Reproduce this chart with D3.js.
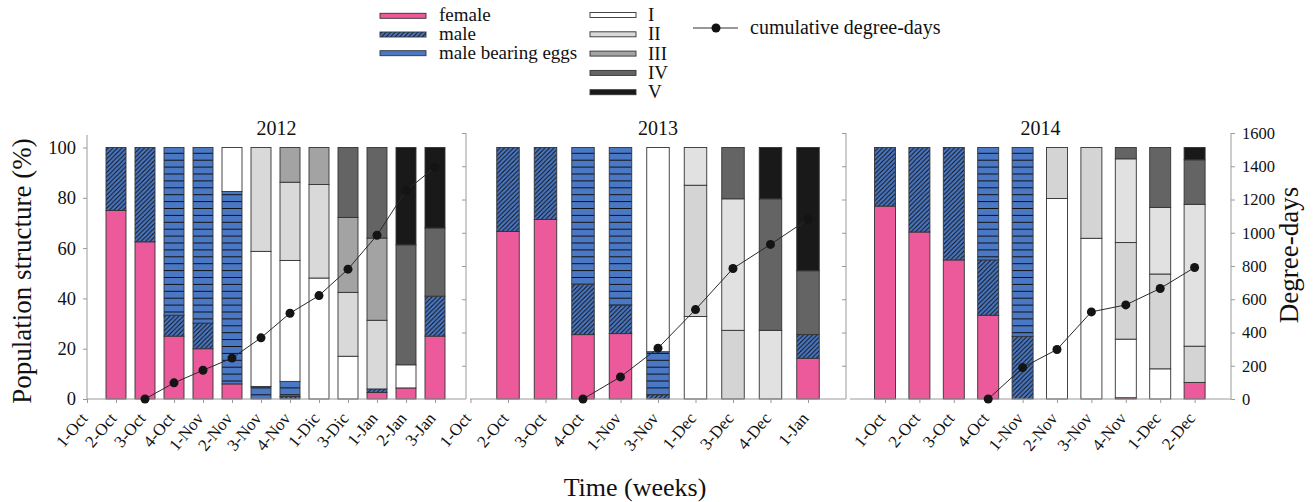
<!DOCTYPE html>
<html>
<head>
<meta charset="utf-8">
<script src="https://cdn.jsdelivr.net/npm/d3@7"></script>
<style>
  body { margin: 0; background: #fff; }
  svg { display: block; }
  svg text { font-family: "Liberation Serif", "Times New Roman", serif; }
</style>
</head>
<body>
<script>
// stacking order, bottom to top
const stages = ["female", "male", "eggs", "I", "II", "III", "IV", "V"];

// ---- 2012 (12 bars, 13 week labels) ----
const weeks2012 = ["1-Oct", "2-Oct", "3-Oct", "4-Oct", "1-Nov", "2-Nov", "3-Nov", "4-Nov", "1-Dic", "3-Dic", "1-Jan", "2-Jan", "3-Jan"];
const female2012 = [75, 62.5, 25, 20, 6, 0, 0, 0, 0, 2.6, 4.4, 25];
const male2012   = [25, 37.5, 8.3, 10.2, 0, 0, 1, 0, 0, 1.4, 0, 15.9];
const eggs2012   = [0, 0, 66.7, 69.8, 76.5, 5, 6, 0, 0, 0, 0, 0];
const I2012      = [0, 0, 0, 0, 17.5, 53.7, 48.1, 48.1, 17, 0, 9.2, 0];
const II2012     = [0, 0, 0, 0, 0, 41.3, 31.1, 37.2, 25.4, 27.3, 0, 0];
const III2012    = [0, 0, 0, 0, 0, 0, 13.8, 14.7, 29.8, 32.7, 0, 0];
const IV2012     = [0, 0, 0, 0, 0, 0, 0, 0, 27.8, 36, 47.7, 27.1];
const V2012      = [0, 0, 0, 0, 0, 0, 0, 0, 0, 0, 38.7, 32];
const dd2012     = [null, 0, 97, 173, 246, 368, 516, 622, 781, 985, 1254, 1393];

// ---- 2013 (9 bars, 10 week labels) ----
const weeks2013 = ["1-Oct", "2-Oct", "3-Oct", "4-Oct", "1-Nov", "3-Nov", "1-Dec", "3-Dec", "4-Dec", "1-Jan"];
const female2013 = [66.6, 71.4, 25.6, 26, 0, 0, 0, 0, 16.2];
const male2013   = [33.4, 28.6, 20.1, 11.3, 1.7, 0, 0, 0, 9.4];
const eggs2013   = [0, 0, 54.3, 62.7, 17.1, 0, 0, 0, 0];
const I2013      = [0, 0, 0, 0, 81.2, 32.8, 0, 0, 0];
const II2013     = [0, 0, 0, 0, 0, 52.2, 27.3, 0, 0];
const III2013    = [0, 0, 0, 0, 0, 15, 52.3, 27.3, 0];
const IV2013     = [0, 0, 0, 0, 0, 0, 20.4, 52.3, 25.4];
const V2013      = [0, 0, 0, 0, 0, 0, 0, 20.4, 49];
const dd2013     = [null, null, 0, 133, 306, 538, 785, 930, 1081];

// ---- 2014 (10 bars) ----
const weeks2014 = ["1-Oct", "2-Oct", "3-Oct", "4-Oct", "1-Nov", "2-Nov", "3-Nov", "4-Nov", "1-Dec", "2-Dec"];
const female2014 = [76.7, 66.4, 55.3, 33.3, 0, 0, 0, 0.5, 0, 6.6];
const male2014   = [23.3, 33.6, 44.7, 22, 24.9, 0, 0, 0, 0, 0];
const eggs2014   = [0, 0, 0, 44.7, 75.1, 0, 0, 0, 0, 0];
const I2014      = [0, 0, 0, 0, 0, 79.7, 63.9, 23.3, 12, 0];
const II2014     = [0, 0, 0, 0, 0, 20.3, 36.1, 38.4, 37.7, 14.4];
const III2014    = [0, 0, 0, 0, 0, 0, 0, 33.3, 26.5, 56.4];
const IV2014     = [0, 0, 0, 0, 0, 0, 0, 4.5, 23.8, 17.7];
const V2014      = [0, 0, 0, 0, 0, 0, 0, 0, 0, 4.9];
const dd2014     = [null, null, null, 0, 189, 298, 524, 566, 665, 791];

const pctTicks = [0, 20, 40, 60, 80, 100];
const ddTicks = [0, 200, 400, 600, 800, 1000, 1200, 1400, 1600];

// legend texts
const sexLegend = ["female", "male", "male bearing eggs"];
const stageLegend = ["I", "II", "III", "IV", "V"];

// colours
const pink = "#ec5a9c", blue = "#4a78c4";
const colors2012 = { female: pink, male: "url(#hatch)", eggs: "url(#hlines)", I: "#ffffff", II: "#d9d9d9", III: "#a3a3a3", IV: "#646464", V: "#191919" };
const colorsLate = { ...colors2012, II: "#d4d4d4", III: "#e1e1e1" };

const panels = [
  { year: "2012", weeks: weeks2012, lab0: 0, dom: [0, 13], rng: [87, 464], ax: [87, 466], bw: 20, colors: colors2012,
    s: { female: female2012, male: male2012, eggs: eggs2012, I: I2012, II: II2012, III: III2012, IV: IV2012, V: V2012 }, dd: dd2012 },
  { year: "2013", weeks: weeks2013, lab0: 0, dom: [0, 10], rng: [470.5, 845.5], ax: [470, 846], bw: 22.5, colors: colorsLate,
    s: { female: female2013, male: male2013, eggs: eggs2013, I: I2013, II: II2013, III: III2013, IV: IV2013, V: V2013 }, dd: dd2013 },
  { year: "2014", weeks: weeks2014, lab0: 1, dom: [0, 11], rng: [850.6, 1229], ax: [850, 1231], bw: 21, colors: colorsLate,
    s: { female: female2014, male: male2014, eggs: eggs2014, I: I2014, II: II2014, III: III2014, IV: IV2014, V: V2014 }, dd: dd2014 }
];

const W = 1313, H = 502;
const yBase = 399;
const y = d3.scaleLinear().domain([0, 100]).range([yBase, 147.5]);
const yDD = d3.scaleLinear().domain([0, 1600]).range([yBase, 133]);
const axisColor = "#9a9a9a";

const svg = d3.select("body").append("svg").attr("width", W).attr("height", H);

// d3 axes put a sans-serif font on their group; drop it so the serif rule applies
function tidy(a, size) {
  a.attr("font-family", null).attr("font-size", null);
  a.select(".domain").remove();
  a.selectAll(".tick line").attr("stroke", axisColor);
  a.selectAll(".tick text").attr("fill", "#111").attr("font-size", size);
}

// patterns
const defs = svg.append("defs");
const hatch = defs.append("pattern").attr("id", "hatch").attr("patternUnits", "userSpaceOnUse")
  .attr("width", 4.5).attr("height", 4.5);
hatch.append("rect").attr("width", 4.5).attr("height", 4.5).attr("fill", blue);
hatch.append("path").attr("d", "M-1,1 L1,-1 M0,4.5 L4.5,0 M3.5,5.5 L5.5,3.5")
  .attr("stroke", "#111").attr("stroke-width", 1);
const hl = defs.append("pattern").attr("id", "hlines").attr("patternUnits", "userSpaceOnUse")
  .attr("width", 10).attr("height", 6.9).attr("y", 1);
hl.append("rect").attr("width", 10).attr("height", 6.9).attr("fill", blue);
hl.append("line").attr("x1", 0).attr("x2", 10).attr("y1", 0.5).attr("y2", 0.5)
  .attr("stroke", "#111").attr("stroke-width", 1);

panels.forEach((p) => {
  const x = d3.scaleLinear().domain(p.dom).range(p.rng);
  const n = p.s.female.length;
  const rows = d3.range(n).map((j) => Object.fromEntries(stages.map((k) => [k, p.s[k][j]])));
  const layers = d3.stack().keys(stages)(rows);

  const g = svg.append("g");

  // bars
  g.selectAll("g.layer")
    .data(layers)
    .join("g")
    .attr("fill", (d) => p.colors[d.key])
    .selectAll("rect")
    .data((d) => d.map((v, j) => ({ v, j })).filter((o) => o.v[1] - o.v[0] > 0))
    .join("rect")
    .attr("x", (o) => x(o.j + 1) - p.bw / 2)
    .attr("width", p.bw)
    .attr("y", (o) => y(o.v[1]))
    .attr("height", (o) => y(o.v[0]) - y(o.v[1]))
    .attr("stroke", "#333")
    .attr("stroke-width", 0.9);

  // bottom axis
  const xa = g.append("g").attr("transform", `translate(0,${yBase})`)
    .call(d3.axisBottom(x)
      .tickValues(d3.range(p.lab0, p.lab0 + p.weeks.length))
      .tickFormat((i) => p.weeks[i - p.lab0])
      .tickSize(4));
  tidy(xa, 17);
  xa.selectAll(".tick text")
    .attr("y", 0).attr("dy", "0.35em")
    .attr("transform", "translate(-3.5,16) rotate(-50)")
    .attr("text-anchor", "end");
  g.append("line").attr("x1", p.ax[0]).attr("x2", p.ax[1]).attr("y1", yBase).attr("y2", yBase)
    .attr("stroke", axisColor);

  // year title
  g.append("text").attr("x", (p.ax[0] + p.ax[1]) / 2).attr("y", 135)
    .attr("text-anchor", "middle").attr("font-size", 20).attr("fill", "#111").text(p.year);

  // degree-days line
  const pts = p.dd.map((v, j) => ({ v, j })).filter((o) => o.v !== null);
  g.append("path").datum(pts)
    .attr("fill", "none").attr("stroke", "#2a2a2a").attr("stroke-width", 1)
    .attr("d", d3.line().x((o) => x(o.j + 1)).y((o) => yDD(o.v)));
  g.selectAll("circle").data(pts).join("circle")
    .attr("cx", (o) => x(o.j + 1)).attr("cy", (o) => yDD(o.v)).attr("r", 4.5).attr("fill", "#141414");
});

// left percentage axis
const la = svg.append("g").attr("transform", "translate(87,0)")
  .call(d3.axisLeft(y).tickValues(pctTicks).tickSize(4).tickFormat(d3.format("d")));
tidy(la, 18.5);
la.selectAll(".tick text").attr("x", -11);
svg.append("line").attr("x1", 87).attr("x2", 87).attr("y1", 135).attr("y2", yBase).attr("stroke", axisColor);

// shared separators carrying degree-day ticks
[466, 846].forEach((sx) => {
  const s = svg.append("g").attr("transform", `translate(${sx},0)`)
    .call(d3.axisLeft(yDD).tickValues(ddTicks.slice(1)).tickSize(4).tickFormat(""));
  tidy(s, 10);
  svg.append("line").attr("x1", sx).attr("x2", sx).attr("y1", 133).attr("y2", yBase).attr("stroke", axisColor);
});

// right degree-days axis
const ra = svg.append("g").attr("transform", "translate(1231,0)")
  .call(d3.axisRight(yDD).tickValues(ddTicks).tickSize(4).tickFormat(d3.format("d")));
tidy(ra, 16.5);
ra.selectAll(".tick text").attr("x", 11);
svg.append("line").attr("x1", 1231).attr("x2", 1231).attr("y1", 133).attr("y2", yBase).attr("stroke", axisColor);

// axis titles
svg.append("text").attr("transform", "translate(31,271) rotate(-90)")
  .attr("text-anchor", "middle").attr("font-size", 27).attr("fill", "#111").text("Population structure (%)");
svg.append("text").attr("transform", "translate(1298,255) rotate(-90)")
  .attr("text-anchor", "middle").attr("font-size", 27).attr("fill", "#111").text("Degree-days");
svg.append("text").attr("x", 635).attr("y", 496)
  .attr("text-anchor", "middle").attr("font-size", 26).attr("fill", "#111").text("Time (weeks)");

// legend
const leg = svg.append("g").attr("font-size", 19).attr("fill", "#111");
const sexFill = [pink, "url(#hatch)", blue];
sexLegend.forEach((t, i) => {
  const cy = 15.8 + i * 18.7;
  leg.append("rect").attr("x", 380).attr("y", cy - 2.5).attr("width", 46).attr("height", 5)
    .attr("fill", sexFill[i]).attr("stroke", "#333").attr("stroke-width", 0.9);
  leg.append("text").attr("x", 439).attr("y", cy + 5.5).text(t);
});
stageLegend.forEach((t, i) => {
  const cy = 15 + i * 19.3;
  leg.append("rect").attr("x", 590).attr("y", cy - 2.5).attr("width", 46).attr("height", 5)
    .attr("fill", colors2012[t]).attr("stroke", "#333").attr("stroke-width", 0.9);
  leg.append("text").attr("x", 648).attr("y", cy + 6).text(t);
});
leg.append("line").attr("x1", 693).attr("x2", 738).attr("y1", 28).attr("y2", 28).attr("stroke", "#333");
leg.append("circle").attr("cx", 716).attr("cy", 28).attr("r", 4.5).attr("fill", "#111");
leg.append("text").attr("x", 750).attr("y", 34).attr("font-size", 20).text("cumulative degree-days");
</script>
</body>
</html>
